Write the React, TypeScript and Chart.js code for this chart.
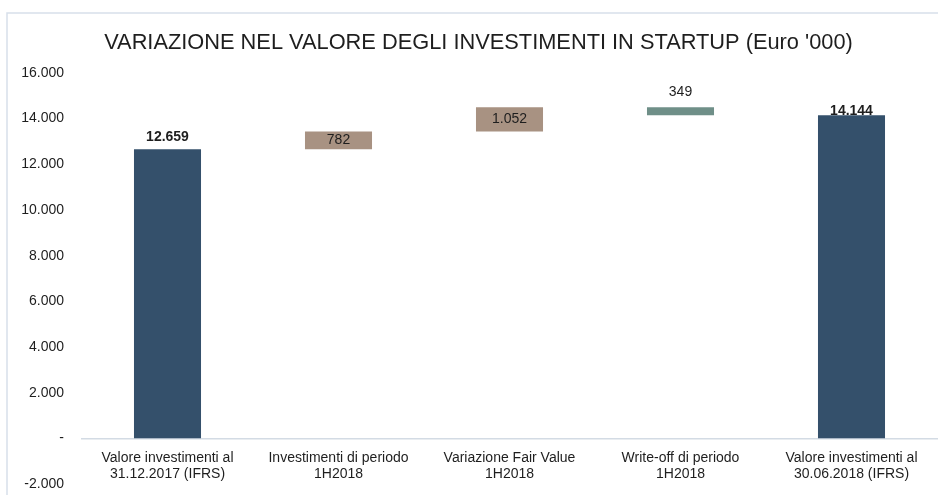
import React, { useEffect, useRef } from "react";
import { Chart, registerables } from "chart.js";

Chart.register(...registerables);

// ---- data ----
const categories: string[][] = [
  ["Valore investimenti al", "31.12.2017 (IFRS)"],
  ["Investimenti di periodo", "1H2018"],
  ["Variazione Fair Value", "1H2018"],
  ["Write-off di periodo", "1H2018"],
  ["Valore investimenti al", "30.06.2018 (IFRS)"],
];
const openingValue = 12659;
const periodChanges = [782, 1052, -349];
const closingValue = 14144;
const yMin = -2000;
const yMax = 16000;
const yStep = 2000;
const titleText = "VARIAZIONE NEL VALORE DEGLI INVESTIMENTI IN STARTUP (Euro '000)";

// ---- styles ----
const barColors = ["#34506b", "#a89282", "#a89282", "#6f8f88", "#34506b"];
const labelPlacement = ["above", "inside", "inside", "above", "above"];
const labelBold = [true, false, false, false, true];
const labelOffset = [12, 0, 0, 15, 4];
const FONT = '"Liberation Sans", Arial, Helvetica, sans-serif';

function fmt(v: number): string {
  if (v === 0) return "-";
  const neg = v < 0;
  const s = Math.abs(Math.round(v)).toString().replace(/\B(?=(\d{3})+(?!\d))/g, ".");
  return (neg ? "-" : "") + s;
}

function buildFloating(): [number, number][] {
  const out: [number, number][] = [[0, openingValue]];
  let run = openingValue;
  for (const c of periodChanges) {
    const next = run + c;
    out.push([Math.min(run, next), Math.max(run, next)]);
    run = next;
  }
  out.push([0, closingValue]);
  return out;
}

const displayValues = [openingValue, ...periodChanges.map((c) => Math.abs(c)), closingValue];

const frameAndLabels = {
  id: "frameAndLabels",
  beforeDraw(chart: any) {
    const ctx = chart.ctx;
    ctx.save();
    ctx.strokeStyle = "#d7e0ea";
    ctx.lineWidth = 1.5;
    ctx.beginPath();
    ctx.moveTo(7, chart.height);
    ctx.lineTo(7, 13);
    ctx.lineTo(chart.width, 13);
    ctx.stroke();
    ctx.restore();
  },
  afterDatasetsDraw(chart: any) {
    const ctx = chart.ctx;
    const meta = chart.getDatasetMeta(0);
    ctx.save();
    ctx.textAlign = "center";
    ctx.textBaseline = "middle";
    meta.data.forEach((el: any, i: number) => {
      const { x, y, base } = el.getProps(["x", "y", "base"], true);
      const top = Math.min(y, base);
      const bottom = Math.max(y, base);
      ctx.font = (labelBold[i] ? "bold " : "") + "14px " + FONT;
      ctx.fillStyle = "#1e1e1e";
      let ly: number;
      if (labelPlacement[i] === "inside") ly = (top + bottom) / 2;
      else ly = top - labelOffset[i];
      ctx.fillText(fmt(displayValues[i]), x, ly);
    });
    ctx.restore();
  },
};

export default function App() {
  const ref = useRef<HTMLCanvasElement | null>(null);
  useEffect(() => {
    if (!ref.current) return;
    const chart = new Chart(ref.current, {
      type: "bar",
      data: {
        labels: categories,
        datasets: [
          {
            data: buildFloating() as any,
            backgroundColor: barColors,
            borderWidth: 0,
            barPercentage: 0.392,
            categoryPercentage: 1,
          },
        ],
      },
      options: {
        animation: false,
        responsive: false,
        maintainAspectRatio: false,
        layout: { padding: { left: 20, right: 1, top: 0, bottom: 11 } },
        plugins: {
          legend: { display: false },
          tooltip: { enabled: false },
          title: {
            display: true,
            text: titleText,
            color: "#1e1e1e",
            font: { family: FONT, size: 21.8, weight: "normal" as any },
            padding: { top: 29.5, bottom: 17.3 },
          },
        },
        scales: {
          x: {
            position: { y: 0 } as any,
            afterFit: (s: any) => {
              s.height = 0;
            },
            grid: { display: false, drawTicks: false },
            border: { display: true, color: "#d3dbe4", width: 1.5 },
            ticks: {
              color: "#1e1e1e",
              font: { family: FONT, size: 14 },
              padding: 11,
              maxRotation: 0,
              minRotation: 0,
              autoSkip: false,
            },
          },
          y: {
            min: yMin,
            max: yMax,
            afterFit: (s: any) => {
              s.width = 62;
              s.paddingTop = 0;
              s.paddingBottom = 0;
            },
            grid: { display: false, drawTicks: false },
            border: { display: false },
            ticks: {
              stepSize: yStep,
              color: "#1e1e1e",
              font: { family: FONT, size: 14 },
              padding: 18,
              callback: (v: any) => fmt(Number(v)),
            },
          },
        },
      },
      plugins: [frameAndLabels],
    });
    return () => chart.destroy();
  }, []);
  return (
    <div style={{ position: "fixed", left: 0, top: 0, width: 938, height: 495, background: "#fff" }}>
      <canvas ref={ref} width={938} height={495} style={{ width: 938, height: 495, display: "block" }} />
    </div>
  );
}
